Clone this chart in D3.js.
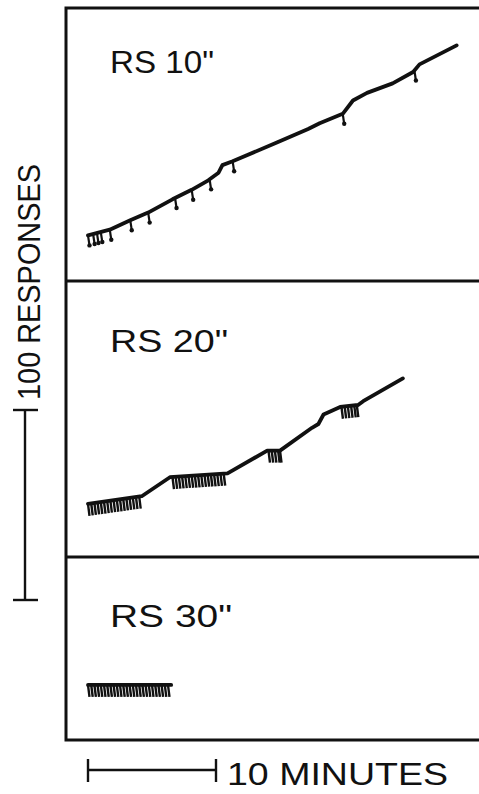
<!DOCTYPE html>
<html>
<head>
<meta charset="utf-8">
<script src="https://d3js.org/d3.v7.min.js"></script>
<style>
  body { margin: 0; background: #fff; }
  text { font-family: "Liberation Sans", Arial, sans-serif; fill: #111; }
</style>
</head>
<body>
<div id="chart"></div>
<script>
// cumulative records, one panel per RS interval
// time in minutes, responses counted from the panel floor
var panelLabels = ["RS 10\"", "RS 20\"", "RS 30\""];

var rs10Time = [0, 1.7, 3.3, 4.7, 6.6, 8.1, 9.4, 10.2, 10.5, 11.3, 14.8, 17.2, 18.1, 19.9, 20.7, 21.8, 23.8, 25.4, 25.9, 28.8];
var rs10Resp = [24, 27, 32, 36, 43, 48, 53, 57, 61, 63, 73, 80, 83, 88, 95, 99, 104, 110, 114, 124];
var rs10Shocks = [0, 0.4, 0.7, 1.0, 1.7, 3.3, 4.7, 6.8, 8.1, 9.5, 11.3, 19.9, 25.5];

var rs20Time = [0, 4.2, 6.4, 10.9, 14.0, 15.0, 17.5, 18.0, 18.4, 19.7, 21.1, 21.5, 24.6];
var rs20Resp = [28, 32, 42, 44, 56, 56, 68, 70, 75, 79, 80, 82, 94];
var rs20Shocks = [0, 0.25, 0.5, 0.75, 1.0, 1.25, 1.5, 1.75, 2.0, 2.25, 2.5, 2.75, 3.0, 3.25, 3.5, 3.75, 4.0,
                  6.6, 6.85, 7.1, 7.35, 7.6, 7.85, 8.1, 8.35, 8.6, 8.85, 9.1, 9.35, 9.6, 9.85, 10.1, 10.35, 10.6,
                  14.1, 14.35, 14.6, 14.85, 15.0,
                  19.8, 20.05, 20.3, 20.55, 20.8, 21.0];

var rs30Time = [0, 6.5];
var rs30Resp = [29, 29];
var rs30Shocks = [0, 0.25, 0.5, 0.75, 1.0, 1.25, 1.5, 1.75, 2.0, 2.25, 2.5, 2.75, 3.0, 3.25, 3.5, 3.75,
                  4.0, 4.25, 4.5, 4.75, 5.0, 5.25, 5.5, 5.75, 6.0, 6.25];

var panels = [
  {label: panelLabels[0], time: rs10Time, resp: rs10Resp, shocks: rs10Shocks, pip: true},
  {label: panelLabels[1], time: rs20Time, resp: rs20Resp, shocks: rs20Shocks, pip: false},
  {label: panelLabels[2], time: rs30Time, resp: rs30Resp, shocks: rs30Shocks, pip: false}
];

var width = 479,
    height = 794;

var svg = d3.select("#chart").append("svg")
    .attr("width", width)
    .attr("height", height);

var frameLeft = 66, frameTop = 8;
var panelBottoms = [281, 557, 740];
var labelWidths = [104, 118, 122];
var labelBase = [73, 352, 627];

// 10 minutes = 128 px, 100 responses = 190 px
var x = d3.scaleLinear().domain([0, 10]).range([88, 216]);

// frame
svg.append("path")
    .attr("d", "M482," + frameTop + "H" + frameLeft + "V" + panelBottoms[2] + "H482")
    .attr("fill", "none")
    .attr("stroke", "#111")
    .attr("stroke-width", 3);

svg.selectAll("line.divider")
    .data(panelBottoms.slice(0, 2))
    .enter().append("line")
    .attr("class", "divider")
    .attr("x1", frameLeft).attr("x2", 482)
    .attr("y1", function(d) { return d; })
    .attr("y2", function(d) { return d; })
    .attr("stroke", "#111")
    .attr("stroke-width", 3);

panels.forEach(function(p, i) {
    var y = d3.scaleLinear().domain([0, 100]).range([panelBottoms[i], panelBottoms[i] - 190]);
    var along = d3.scaleLinear().domain(p.time).range(p.resp).clamp(true);
    var g = svg.append("g");

    g.append("text")
        .attr("x", 110)
        .attr("y", labelBase[i])
        .attr("font-size", 32)
        .attr("textLength", labelWidths[i])
        .attr("lengthAdjust", "spacingAndGlyphs")
        .text(p.label);

    var line = d3.line()
        .x(function(d) { return x(d[0]); })
        .y(function(d) { return y(d[1]); });

    g.append("path")
        .datum(d3.zip(p.time, p.resp))
        .attr("d", line)
        .attr("fill", "none")
        .attr("stroke", "#111")
        .attr("stroke-width", 3.8)
        .attr("stroke-linejoin", "round")
        .attr("stroke-linecap", "round");

    var len = p.pip ? 10 : 12;
    g.selectAll("line.shock")
        .data(p.shocks)
        .enter().append("line")
        .attr("class", "shock")
        .attr("x1", function(d) { return x(d); })
        .attr("y1", function(d) { return y(along(d)); })
        .attr("x2", function(d) { return x(d) + 1.5; })
        .attr("y2", function(d) { return y(along(d)) + len; })
        .attr("stroke", "#111")
        .attr("stroke-width", p.pip ? 2.2 : 2.4);

    if (p.pip) {
        g.selectAll("circle.pip")
            .data(p.shocks)
            .enter().append("circle")
            .attr("class", "pip")
            .attr("cx", function(d) { return x(d) + 1.5; })
            .attr("cy", function(d) { return y(along(d)) + len; })
            .attr("r", 2.2)
            .attr("fill", "#111");
    }
});

// scale bars
var barY = d3.scaleLinear().domain([0, 100]).range([600, 410]);
var sb = svg.append("g").attr("stroke", "#111").attr("stroke-width", 2.4);
sb.append("line").attr("x1", 25).attr("x2", 25).attr("y1", barY(0)).attr("y2", barY(100));
sb.append("line").attr("x1", 13).attr("x2", 38).attr("y1", barY(0)).attr("y2", barY(0));
sb.append("line").attr("x1", 13).attr("x2", 38).attr("y1", barY(100)).attr("y2", barY(100));

sb.append("line").attr("x1", x(0)).attr("x2", x(10)).attr("y1", 770).attr("y2", 770);
sb.append("line").attr("x1", x(0)).attr("x2", x(0)).attr("y1", 759).attr("y2", 782);
sb.append("line").attr("x1", x(10)).attr("x2", x(10)).attr("y1", 759).attr("y2", 782);

svg.append("text")
    .attr("transform", "translate(40,282) rotate(-90)")
    .attr("text-anchor", "middle")
    .attr("font-size", 32)
    .attr("textLength", 236)
    .attr("lengthAdjust", "spacingAndGlyphs")
    .text("100 RESPONSES");

svg.append("text")
    .attr("x", 227)
    .attr("y", 785)
    .attr("font-size", 32)
    .attr("textLength", 221)
    .attr("lengthAdjust", "spacingAndGlyphs")
    .text("10 MINUTES");
</script>
</body>
</html>
